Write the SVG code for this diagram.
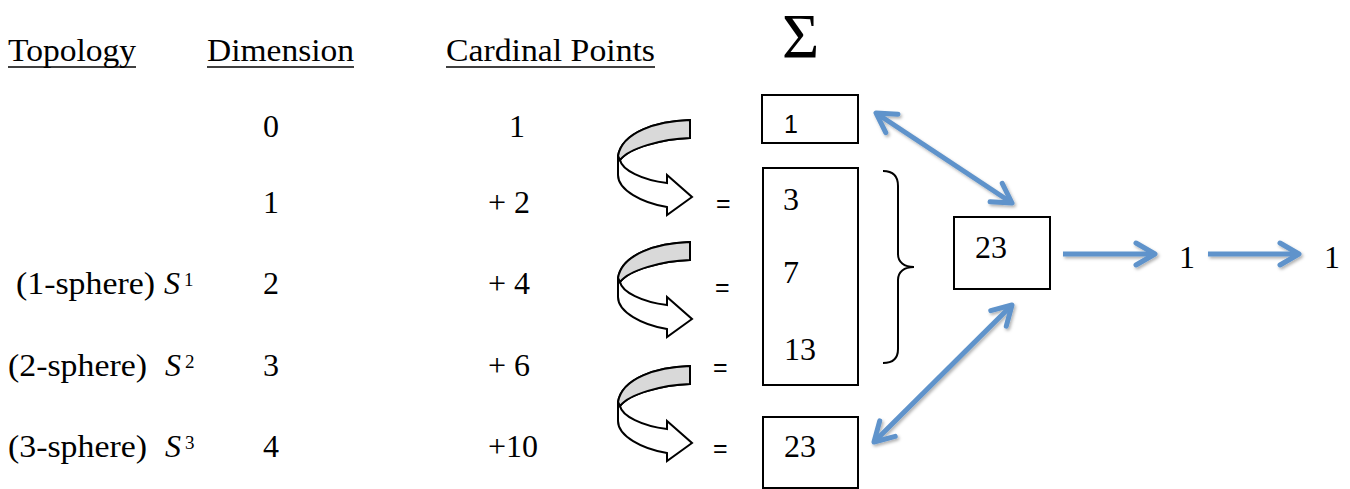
<svg xmlns="http://www.w3.org/2000/svg" xmlns:xlink="http://www.w3.org/1999/xlink" width="1350" height="489" viewBox="0 0 1350 489">
  <style>
    .serif { font-family: "Liberation Serif", "DejaVu Serif", serif; font-size: 32px; fill: #000; }
    .sans { font-family: "Liberation Sans", Arial, sans-serif; font-size: 25px; fill: #000; }
    .ital { font-style: italic; }
    .sup { font-size: 19px; }
    .box { fill: #fff; stroke: #000; stroke-width: 2; }
    .uline { stroke: #000; stroke-width: 1.6; }
    .blue { fill: none; stroke: #5f93cb; stroke-width: 5; }
    .brace { fill: none; stroke: #000; stroke-width: 2; }
    .carrow { fill: #fff; stroke: #000; stroke-width: 2; stroke-linejoin: miter; }
    .cband { fill: #d9d9d9; stroke: #000; stroke-width: 2; }
  </style>
  <defs>
    <marker id="head" markerUnits="userSpaceOnUse" viewBox="0 0 24 26" refX="21" refY="13" markerWidth="24" markerHeight="26" orient="auto-start-reverse" overflow="visible">
      <path d="M2,2 L21,13 L2,24" fill="none" stroke="#5f93cb" stroke-width="5" stroke-linecap="round" stroke-linejoin="round"/>
    </marker>
    <filter id="shadow" x="-10%" y="-10%" width="130%" height="130%">
      <feDropShadow dx="1.5" dy="2" stdDeviation="1.5" flood-color="#000" flood-opacity="0.3"/>
    </filter>
    <g id="curved">
      <path class="carrow" d="M73,0 C40,1 5,12 1,36 L1,55 C1,70 25,83 50,87 L50,95 L75,77 L50,55 L50,63 C25,60 5,50 3,40 C12,28 45,19 73,18 Z"/>
      <path class="cband" d="M73,0 C40,1 5,12 1,36 L3,40 C12,28 45,19 73,18 Z"/>
    </g>
  </defs>

  <!-- Headers -->
  <g id="headers">
    <text class="serif" x="8" y="61" textLength="128" lengthAdjust="spacingAndGlyphs">Topology</text>
    <line class="uline" x1="8" y1="67" x2="136" y2="67"/>
    <text class="serif" x="207" y="61" textLength="147" lengthAdjust="spacingAndGlyphs">Dimension</text>
    <line class="uline" x1="207" y1="67" x2="354" y2="67"/>
    <text class="serif" x="446" y="61" textLength="209" lengthAdjust="spacingAndGlyphs">Cardinal Points</text>
    <line class="uline" x1="446" y1="67" x2="655" y2="67"/>
    <text class="serif" x="782" y="58" style="font-size:64px">Σ</text>
  </g>

  <!-- Topology labels -->
  <g id="topology">
    <text class="serif" x="16" y="294" textLength="139" lengthAdjust="spacingAndGlyphs">(1-sphere)</text>
    <text class="serif ital" x="164" y="294">S</text>
    <text class="serif sup" x="184" y="286">1</text>
    <text class="serif" x="8" y="376" textLength="139" lengthAdjust="spacingAndGlyphs">(2-sphere)</text>
    <text class="serif ital" x="165" y="376">S</text>
    <text class="serif sup" x="185" y="368">2</text>
    <text class="serif" x="8" y="457" textLength="139" lengthAdjust="spacingAndGlyphs">(3-sphere)</text>
    <text class="serif ital" x="165" y="457">S</text>
    <text class="serif sup" x="185" y="449">3</text>
  </g>

  <!-- Dimension column -->
  <g id="dimension">
    <text class="serif" x="263" y="137">0</text>
    <text class="serif" x="263" y="213">1</text>
    <text class="serif" x="263" y="294">2</text>
    <text class="serif" x="263" y="376">3</text>
    <text class="serif" x="263" y="457">4</text>
  </g>

  <!-- Cardinal points column -->
  <g id="cardinal">
    <text class="serif" x="509" y="137">1</text>
    <text class="serif" x="488" y="213">+ 2</text>
    <text class="serif" x="488" y="294">+ 4</text>
    <text class="serif" x="488" y="376">+ 6</text>
    <text class="serif" x="488" y="457">+10</text>
  </g>

  <!-- Curved arrows -->
  <g id="curved-arrows">
    <use xlink:href="#curved" href="#curved" transform="translate(617,120)"/>
    <use xlink:href="#curved" href="#curved" transform="translate(617,242)"/>
    <use xlink:href="#curved" href="#curved" transform="translate(617,366)"/>
  </g>

  <!-- Equals signs -->
  <g id="equals">
    <text class="sans" x="716" y="212">=</text>
    <text class="sans" x="715" y="296">=</text>
    <text class="sans" x="713" y="376">=</text>
    <text class="sans" x="713" y="457">=</text>
  </g>

  <!-- Sum boxes -->
  <g id="box-1">
    <rect class="box" x="762" y="95" width="96" height="48"/>
    <text class="sans" x="784" y="133">1</text>
  </g>
  <g id="box-3-7-13">
    <rect class="box" x="763" y="168" width="95" height="217"/>
    <text class="serif" x="783" y="210">3</text>
    <text class="serif" x="783" y="283">7</text>
    <text class="serif" x="784" y="360">13</text>
  </g>
  <g id="box-23-bottom">
    <rect class="box" x="763" y="417" width="95" height="71"/>
    <text class="serif" x="784" y="457">23</text>
  </g>
  <g id="brace">
    <path class="brace" d="M883,171 C893,171 898,176 898,186 L898,254 C898,262 904,267 914,267 C904,267 898,272 898,280 L898,349 C898,358 893,363 883,363"/>
  </g>
  <g id="box-23">
    <rect class="box" x="954" y="217" width="96" height="72"/>
    <text class="serif" x="975" y="258">23</text>
  </g>
  <g id="result-1">
    <text class="serif" x="1179" y="268">1</text>
  </g>
  <g id="result-2">
    <text class="serif" x="1324" y="268">1</text>
  </g>

  <!-- Connectors -->
  <g id="connectors" filter="url(#shadow)">
    <line class="blue" x1="876" y1="113" x2="1012" y2="203" marker-start="url(#head)" marker-end="url(#head)"/>
    <line class="blue" x1="1012" y1="305" x2="874" y2="442" marker-start="url(#head)" marker-end="url(#head)"/>
    <line class="blue" x1="1063" y1="254" x2="1155" y2="254" marker-end="url(#head)"/>
    <line class="blue" x1="1208" y1="254" x2="1299" y2="254" marker-end="url(#head)"/>
  </g>
</svg>
